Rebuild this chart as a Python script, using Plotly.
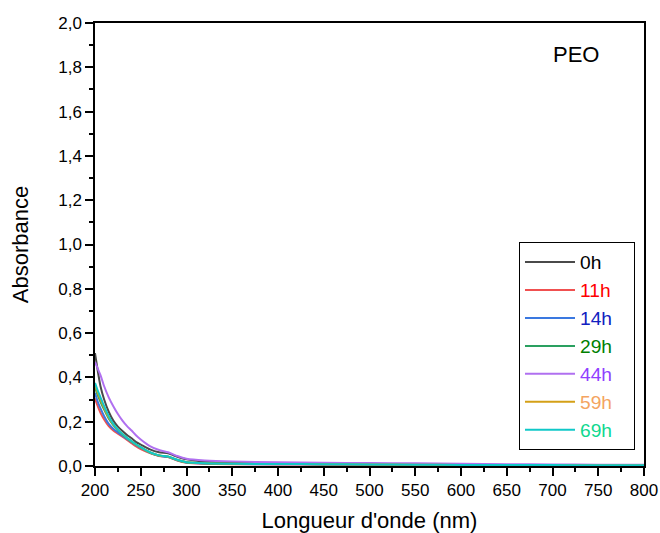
import plotly.graph_objects as go

wavelength = [200, 203, 206, 210, 215, 220, 225, 230, 235, 240, 245, 250, 260, 270, 280, 290,
              300, 320, 350, 400, 450, 500, 550, 600, 650, 700, 750, 800]

abs_0h = [0.51, 0.43, 0.36, 0.30, 0.245, 0.205, 0.178, 0.158, 0.140, 0.125, 0.108, 0.097, 0.075, 0.062,
          0.057, 0.042, 0.030, 0.020, 0.015, 0.012, 0.010, 0.009, 0.008, 0.006, 0.005, 0.005, 0.004, 0.004]
abs_11h = [0.305, 0.27, 0.24, 0.21, 0.18, 0.16, 0.146, 0.132, 0.118, 0.103, 0.088, 0.076, 0.058, 0.045,
           0.040, 0.025, 0.015, 0.010, 0.008, 0.007, 0.006, 0.006, 0.005, 0.004, 0.003, 0.003, 0.003, 0.002]
abs_14h = [0.33, 0.29, 0.26, 0.225, 0.19, 0.168, 0.152, 0.137, 0.122, 0.108, 0.094, 0.082, 0.060, 0.046,
           0.040, 0.026, 0.016, 0.011, 0.009, 0.008, 0.007, 0.006, 0.005, 0.004, 0.004, 0.003, 0.003, 0.003]
abs_29h = [0.355, 0.32, 0.29, 0.255, 0.215, 0.185, 0.162, 0.142, 0.125, 0.110, 0.096, 0.084, 0.061, 0.047,
           0.042, 0.027, 0.017, 0.012, 0.010, 0.009, 0.008, 0.007, 0.006, 0.005, 0.004, 0.004, 0.003, 0.003]
abs_44h = [0.47, 0.44, 0.41, 0.36, 0.31, 0.27, 0.235, 0.205, 0.180, 0.160, 0.138, 0.120, 0.090, 0.072,
           0.062, 0.045, 0.033, 0.025, 0.020, 0.017, 0.015, 0.013, 0.012, 0.010, 0.008, 0.007, 0.006, 0.006]
abs_59h = [0.365, 0.33, 0.30, 0.262, 0.22, 0.188, 0.164, 0.144, 0.126, 0.111, 0.096, 0.084, 0.061, 0.047,
           0.042, 0.027, 0.017, 0.012, 0.010, 0.009, 0.008, 0.007, 0.006, 0.005, 0.004, 0.004, 0.003, 0.003]
abs_69h = [0.375, 0.34, 0.31, 0.27, 0.225, 0.19, 0.165, 0.145, 0.127, 0.112, 0.097, 0.085, 0.062, 0.048,
           0.043, 0.028, 0.017, 0.012, 0.010, 0.009, 0.008, 0.007, 0.006, 0.005, 0.004, 0.004, 0.003, 0.003]

series_names = ["0h", "11h", "14h", "29h", "44h", "59h", "69h"]
series_values = [abs_0h, abs_11h, abs_14h, abs_29h, abs_44h, abs_59h, abs_69h]
line_colors = ["#4a4a4a", "#f05050", "#3a78e0", "#2aa060", "#b070f0", "#d4a017", "#10c8c8"]
label_colors = ["#000000", "#ff0000", "#1020c0", "#008000", "#9040ff", "#f4a460", "#10d890"]

y_ticks = [0.0, 0.2, 0.4, 0.6, 0.8, 1.0, 1.2, 1.4, 1.6, 1.8, 2.0]
x_ticks = list(range(200, 801, 50))

FONT = "Liberation Sans, Arial"

fig = go.Figure()
for name, vals, lc, tc in zip(series_names, series_values, line_colors, label_colors):
    fig.add_trace(go.Scatter(
        x=wavelength, y=vals, mode="lines",
        line=dict(color=lc, width=2, shape="spline", smoothing=0.6),
        name=f"<span style='color:{tc}'>{name}</span>&nbsp;&nbsp;&nbsp;",
    ))

axis_common = dict(
    showline=True, linecolor="black", linewidth=1.5, mirror=True,
    ticks="outside", ticklen=8, tickwidth=1.5, tickcolor="black",
    showgrid=False, zeroline=False, automargin=False,
    tickfont=dict(family=FONT, size=17, color="black"),
    title_font=dict(family=FONT, size=22, color="black"),
)

fig.update_layout(
    width=660, height=533,
    margin=dict(l=95, r=16, t=23, b=67),
    paper_bgcolor="white", plot_bgcolor="white",
    separators=",.",
    showlegend=True,
    legend=dict(
        x=0.7723, y=0.5056, xanchor="left", yanchor="top",
        bordercolor="black", borderwidth=1, bgcolor="white",
        font=dict(family=FONT, size=19.2),
        itemwidth=50,
    ),
    xaxis=dict(
        range=[200, 800], tickvals=x_ticks,
        minor=dict(ticks="outside", ticklen=4, tickwidth=1.5, tickcolor="black", dtick=25),
        title=dict(text="Longueur d'onde (nm)", standoff=27),
        **axis_common,
    ),
    yaxis=dict(
        range=[0, 2.0], tickvals=y_ticks, tickformat=".1f",
        minor=dict(ticks="outside", ticklen=4, tickwidth=1.5, tickcolor="black", dtick=0.1),
        title=dict(text="Absorbance", standoff=24),
        **axis_common,
    ),
    annotations=[dict(
        x=0.876, y=0.928, xref="paper", yref="paper", text="PEO", showarrow=False,
        xanchor="center", yanchor="middle",
        font=dict(family=FONT, size=22, color="black"),
    )],
)

fig.write_html(
    "out.html",
    config={"displayModeBar": False},
    post_script="document.body.style.margin='0';document.body.style.overflow='hidden';",
)
